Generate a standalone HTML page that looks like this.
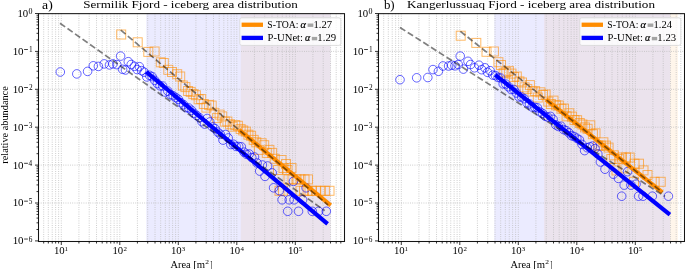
<!DOCTYPE html>
<html><head><meta charset="utf-8"><style>
html,body{margin:0;padding:0;background:#fff;width:685px;height:269px;overflow:hidden}
svg{display:block;font-family:"Liberation Serif",serif;will-change:transform}
</style></head><body>
<svg width="685" height="269" viewBox="0 0 685 269" font-family='"Liberation Serif", serif' fill="#000"><rect x="240.8" y="13.5" width="89.70" height="227.5" fill="#ff8c00" fill-opacity="0.08"/>
<rect x="146.3" y="13.5" width="184.20" height="227.5" fill="#0000ff" fill-opacity="0.08"/>
<path d="M43.69 13.5V241.0M48.32 13.5V241.0M52.24 13.5V241.0M55.63 13.5V241.0M58.62 13.5V241.0M61.30 13.5V241.0M78.91 13.5V241.0M89.21 13.5V241.0M96.52 13.5V241.0M102.19 13.5V241.0M106.82 13.5V241.0M110.74 13.5V241.0M114.13 13.5V241.0M117.12 13.5V241.0M119.80 13.5V241.0M137.41 13.5V241.0M147.71 13.5V241.0M155.02 13.5V241.0M160.69 13.5V241.0M165.32 13.5V241.0M169.24 13.5V241.0M172.63 13.5V241.0M175.62 13.5V241.0M178.30 13.5V241.0M195.91 13.5V241.0M206.21 13.5V241.0M213.52 13.5V241.0M219.19 13.5V241.0M223.82 13.5V241.0M227.74 13.5V241.0M231.13 13.5V241.0M234.12 13.5V241.0M236.80 13.5V241.0M254.41 13.5V241.0M264.71 13.5V241.0M272.02 13.5V241.0M277.69 13.5V241.0M282.32 13.5V241.0M286.24 13.5V241.0M289.63 13.5V241.0M292.62 13.5V241.0M295.30 13.5V241.0M312.91 13.5V241.0M323.21 13.5V241.0M330.52 13.5V241.0M336.19 13.5V241.0M340.82 13.5V241.0M38.5 51.40H344.5M38.5 89.30H344.5M38.5 127.20H344.5M38.5 165.10H344.5M38.5 203.00H344.5" stroke="#b8b8b8" stroke-width="0.8" stroke-dasharray="0.85 1.4" fill="none"/>
<g fill="none" stroke="#ff8c00" stroke-opacity="0.6" stroke-width="1"><rect x="116.7" y="30.0" width="9" height="9"/><rect x="133.2" y="37.8" width="9" height="9"/><rect x="143.8" y="47.4" width="9" height="9"/><rect x="150.1" y="47.0" width="9" height="9"/><rect x="156.3" y="57.8" width="9" height="9"/><rect x="159.3" y="58.5" width="9" height="9"/><rect x="163.8" y="65.3" width="9" height="9"/><rect x="167.5" y="67.5" width="9" height="9"/><rect x="172.7" y="69.7" width="9" height="9"/><rect x="175.7" y="72.0" width="9" height="9"/><rect x="178.3" y="81.0" width="9" height="9"/><rect x="180.9" y="82.6" width="9" height="9"/><rect x="183.6" y="86.5" width="9" height="9"/><rect x="186.2" y="87.4" width="9" height="9"/><rect x="188.8" y="89.6" width="9" height="9"/><rect x="191.4" y="90.7" width="9" height="9"/><rect x="194.1" y="94.8" width="9" height="9"/><rect x="196.7" y="94.6" width="9" height="9"/><rect x="199.3" y="99.5" width="9" height="9"/><rect x="201.9" y="103.1" width="9" height="9"/><rect x="204.6" y="100.4" width="9" height="9"/><rect x="207.2" y="101.1" width="9" height="9"/><rect x="209.8" y="108.3" width="9" height="9"/><rect x="212.4" y="113.6" width="9" height="9"/><rect x="215.1" y="110.1" width="9" height="9"/><rect x="217.7" y="111.9" width="9" height="9"/><rect x="220.3" y="117.1" width="9" height="9"/><rect x="222.9" y="117.0" width="9" height="9"/><rect x="225.6" y="119.8" width="9" height="9"/><rect x="228.2" y="122.2" width="9" height="9"/><rect x="230.8" y="120.6" width="9" height="9"/><rect x="233.4" y="121.3" width="9" height="9"/><rect x="236.1" y="124.6" width="9" height="9"/><rect x="238.7" y="126.0" width="9" height="9"/><rect x="241.3" y="127.1" width="9" height="9"/><rect x="243.9" y="130.2" width="9" height="9"/><rect x="246.6" y="131.3" width="9" height="9"/><rect x="249.2" y="135.4" width="9" height="9"/><rect x="251.8" y="137.8" width="9" height="9"/><rect x="254.4" y="145.4" width="9" height="9"/><rect x="257.1" y="138.7" width="9" height="9"/><rect x="259.7" y="140.7" width="9" height="9"/><rect x="262.3" y="148.4" width="9" height="9"/><rect x="264.9" y="145.4" width="9" height="9"/><rect x="267.6" y="148.4" width="9" height="9"/><rect x="270.2" y="154.3" width="9" height="9"/><rect x="275.0" y="186.3" width="9" height="9"/><rect x="278.5" y="186.3" width="9" height="9"/><rect x="296.0" y="186.3" width="9" height="9"/><rect x="299.5" y="186.3" width="9" height="9"/><rect x="303.1" y="186.3" width="9" height="9"/><rect x="307.5" y="186.3" width="9" height="9"/><rect x="311.7" y="186.3" width="9" height="9"/><rect x="316.0" y="186.3" width="9" height="9"/><rect x="320.4" y="186.3" width="9" height="9"/><rect x="325.0" y="186.3" width="9" height="9"/><rect x="284.0" y="174.9" width="9" height="9"/><rect x="288.0" y="174.9" width="9" height="9"/><rect x="292.0" y="174.9" width="9" height="9"/><rect x="296.0" y="174.9" width="9" height="9"/><rect x="300.0" y="174.9" width="9" height="9"/><rect x="303.5" y="174.9" width="9" height="9"/><rect x="273.5" y="165.5" width="9" height="9"/><rect x="279.0" y="163.5" width="9" height="9"/><rect x="283.0" y="165.5" width="9" height="9"/><rect x="287.0" y="163.5" width="9" height="9"/><rect x="277.0" y="155.5" width="9" height="9"/><rect x="281.5" y="159.5" width="9" height="9"/></g>
<g fill="none" stroke="#0000ff" stroke-opacity="0.6" stroke-width="1"><circle cx="60.3" cy="72.0" r="4.3"/><circle cx="76.8" cy="73.9" r="4.3"/><circle cx="87.6" cy="71.4" r="4.3"/><circle cx="93.3" cy="65.8" r="4.3"/><circle cx="98.4" cy="66.4" r="4.3"/><circle cx="104.2" cy="63.9" r="4.3"/><circle cx="109.5" cy="64.9" r="4.3"/><circle cx="112.9" cy="63.9" r="4.3"/><circle cx="116.8" cy="64.6" r="4.3"/><circle cx="120.6" cy="56.1" r="4.3"/><circle cx="122.6" cy="69.3" r="4.3"/><circle cx="125.5" cy="70.0" r="4.3"/><circle cx="128.3" cy="61.7" r="4.3"/><circle cx="131.2" cy="64.5" r="4.3"/><circle cx="134.4" cy="66.3" r="4.3"/><circle cx="137.1" cy="69.5" r="4.3"/><circle cx="139.4" cy="66.7" r="4.3"/><circle cx="141.6" cy="70.6" r="4.3"/><circle cx="144.2" cy="72.2" r="4.3"/><circle cx="146.8" cy="76.9" r="4.3"/><circle cx="149.5" cy="75.3" r="4.3"/><circle cx="152.1" cy="76.6" r="4.3"/><circle cx="154.7" cy="80.3" r="4.3"/><circle cx="157.3" cy="83.5" r="4.3"/><circle cx="160.0" cy="85.8" r="4.3"/><circle cx="162.6" cy="86.0" r="4.3"/><circle cx="165.2" cy="92.1" r="4.3"/><circle cx="167.8" cy="91.1" r="4.3"/><circle cx="170.5" cy="94.6" r="4.3"/><circle cx="173.1" cy="95.7" r="4.3"/><circle cx="175.7" cy="97.5" r="4.3"/><circle cx="178.3" cy="99.3" r="4.3"/><circle cx="181.0" cy="102.7" r="4.3"/><circle cx="183.6" cy="104.7" r="4.3"/><circle cx="186.2" cy="107.7" r="4.3"/><circle cx="188.8" cy="108.0" r="4.3"/><circle cx="191.5" cy="110.3" r="4.3"/><circle cx="194.1" cy="113.4" r="4.3"/><circle cx="196.7" cy="115.5" r="4.3"/><circle cx="199.3" cy="117.6" r="4.3"/><circle cx="202.0" cy="121.7" r="4.3"/><circle cx="204.6" cy="124.1" r="4.3"/><circle cx="207.2" cy="118.5" r="4.3"/><circle cx="209.8" cy="122.0" r="4.3"/><circle cx="212.5" cy="127.0" r="4.3"/><circle cx="215.1" cy="128.7" r="4.3"/><circle cx="217.7" cy="132.1" r="4.3"/><circle cx="220.3" cy="134.3" r="4.3"/><circle cx="223.0" cy="140.1" r="4.3"/><circle cx="225.6" cy="134.5" r="4.3"/><circle cx="228.2" cy="138.0" r="4.3"/><circle cx="230.8" cy="144.5" r="4.3"/><circle cx="233.5" cy="144.2" r="4.3"/><circle cx="236.1" cy="146.4" r="4.3"/><circle cx="238.7" cy="146.5" r="4.3"/><circle cx="241.3" cy="146.8" r="4.3"/><circle cx="244.0" cy="152.2" r="4.3"/><circle cx="246.6" cy="154.3" r="4.3"/><circle cx="249.2" cy="154.0" r="4.3"/><circle cx="251.8" cy="157.6" r="4.3"/><circle cx="254.5" cy="157.0" r="4.3"/><circle cx="257.1" cy="163.0" r="4.3"/><circle cx="259.7" cy="171.1" r="4.3"/><circle cx="262.4" cy="165.0" r="4.3"/><circle cx="265.0" cy="176.4" r="4.3"/><circle cx="267.6" cy="166.0" r="4.3"/><circle cx="272.2" cy="172.9" r="4.3"/><circle cx="273.6" cy="187.8" r="4.3"/><circle cx="279.3" cy="190.6" r="4.3"/><circle cx="282.1" cy="199.8" r="4.3"/><circle cx="289.2" cy="199.8" r="4.3"/><circle cx="294.1" cy="199.8" r="4.3"/><circle cx="293.4" cy="181.4" r="4.3"/><circle cx="302.6" cy="199.8" r="4.3"/><circle cx="306.1" cy="187.8" r="4.3"/><circle cx="287.7" cy="211.3" r="4.3"/><circle cx="298.5" cy="211.3" r="4.3"/><circle cx="312.3" cy="211.3" r="4.3"/><circle cx="318.6" cy="211.3" r="4.3"/><circle cx="326.3" cy="211.3" r="4.3"/></g>
<line x1="146.3" y1="71.8" x2="327.6" y2="223.8" stroke="#0000ff" stroke-width="4.2"/>
<line x1="239.1" y1="129.9" x2="330.7" y2="205.3" stroke="#ff8c00" stroke-width="4.2"/>
<line x1="60.0" y1="23.2" x2="324.7" y2="210.6" stroke="#000" stroke-opacity="0.5" stroke-width="1.7" stroke-dasharray="6.3 2.9"/>
<line x1="120.8" y1="30.1" x2="328.0" y2="205.0" stroke="#000" stroke-opacity="0.5" stroke-width="1.7" stroke-dasharray="6.3 2.9"/>
<rect x="239.8" y="17.8" width="101.00" height="27.60" rx="2" fill="#fff" fill-opacity="0.8" stroke="#d6d6d6" stroke-width="0.8"/>
<line x1="241.6" y1="24.75" x2="263" y2="24.75" stroke="#ff8c00" stroke-width="4.3"/>
<line x1="241.6" y1="37.9" x2="263" y2="37.9" stroke="#0000ff" stroke-width="4.3"/>
<text transform="translate(267.25,28.00) scale(1.0060,1)" font-size="9.7">S-TOA:</text>
<text transform="translate(300.59,27.80) scale(1.0678,1)" font-size="9.7" font-style="italic" stroke="#000" stroke-width="0.2">α</text>
<rect x="307.6" y="23.5" width="5.7" height="3.4" fill="#a4a4a4"/>
<text transform="translate(313.46,28.00) scale(1.0983,1)" font-size="9.7">1.27</text>
<text transform="translate(267.59,40.60) scale(1.0971,1)" font-size="9.7">P-UNet:</text>
<text transform="translate(305.00,40.60) scale(1.0275,1)" font-size="9.7" font-style="italic" stroke="#000" stroke-width="0.2">α</text>
<rect x="311.8" y="36.9" width="5.4" height="3.4" fill="#a4a4a4"/>
<text transform="translate(317.36,40.60) scale(1.1065,1)" font-size="9.7">1.29</text>
<rect x="38.5" y="13.65" width="306.0" height="227.85" fill="none" stroke="#151515" stroke-width="1.05"/>
<path d="M43.69 241.5v2.0M48.32 241.5v2.0M52.24 241.5v2.0M55.63 241.5v2.0M58.62 241.5v2.0M61.30 241.5v3.5M78.91 241.5v2.0M89.21 241.5v2.0M96.52 241.5v2.0M102.19 241.5v2.0M106.82 241.5v2.0M110.74 241.5v2.0M114.13 241.5v2.0M117.12 241.5v2.0M119.80 241.5v3.5M137.41 241.5v2.0M147.71 241.5v2.0M155.02 241.5v2.0M160.69 241.5v2.0M165.32 241.5v2.0M169.24 241.5v2.0M172.63 241.5v2.0M175.62 241.5v2.0M178.30 241.5v3.5M195.91 241.5v2.0M206.21 241.5v2.0M213.52 241.5v2.0M219.19 241.5v2.0M223.82 241.5v2.0M227.74 241.5v2.0M231.13 241.5v2.0M234.12 241.5v2.0M236.80 241.5v3.5M254.41 241.5v2.0M264.71 241.5v2.0M272.02 241.5v2.0M277.69 241.5v2.0M282.32 241.5v2.0M286.24 241.5v2.0M289.63 241.5v2.0M292.62 241.5v2.0M295.30 241.5v3.5M312.91 241.5v2.0M323.21 241.5v2.0M330.52 241.5v2.0M336.19 241.5v2.0M340.82 241.5v2.0M38.5 13.50h-3.5M38.5 39.99h-2.0M38.5 33.32h-2.0M38.5 28.58h-2.0M38.5 24.91h-2.0M38.5 21.91h-2.0M38.5 19.37h-2.0M38.5 17.17h-2.0M38.5 15.23h-2.0M38.5 51.40h-3.5M38.5 77.89h-2.0M38.5 71.22h-2.0M38.5 66.48h-2.0M38.5 62.81h-2.0M38.5 59.81h-2.0M38.5 57.27h-2.0M38.5 55.07h-2.0M38.5 53.13h-2.0M38.5 89.30h-3.5M38.5 115.79h-2.0M38.5 109.12h-2.0M38.5 104.38h-2.0M38.5 100.71h-2.0M38.5 97.71h-2.0M38.5 95.17h-2.0M38.5 92.97h-2.0M38.5 91.03h-2.0M38.5 127.20h-3.5M38.5 153.69h-2.0M38.5 147.02h-2.0M38.5 142.28h-2.0M38.5 138.61h-2.0M38.5 135.61h-2.0M38.5 133.07h-2.0M38.5 130.87h-2.0M38.5 128.93h-2.0M38.5 165.10h-3.5M38.5 191.59h-2.0M38.5 184.92h-2.0M38.5 180.18h-2.0M38.5 176.51h-2.0M38.5 173.51h-2.0M38.5 170.97h-2.0M38.5 168.77h-2.0M38.5 166.83h-2.0M38.5 203.00h-3.5M38.5 229.49h-2.0M38.5 222.82h-2.0M38.5 218.08h-2.0M38.5 214.41h-2.0M38.5 211.41h-2.0M38.5 208.87h-2.0M38.5 206.67h-2.0M38.5 204.73h-2.0M38.5 240.90h-3.5" stroke="#000" stroke-width="0.8" fill="none"/>
<text transform="translate(53.95,253.70) scale(1.0755,1)" font-size="10">10</text>
<text x="64.59" y="250.70" font-size="6.9">1</text>
<text transform="translate(112.45,253.70) scale(1.0755,1)" font-size="10">10</text>
<text x="123.40" y="250.70" font-size="6.9">2</text>
<text transform="translate(170.95,253.70) scale(1.0755,1)" font-size="10">10</text>
<text x="181.87" y="250.70" font-size="6.9">3</text>
<text transform="translate(229.45,253.70) scale(1.0755,1)" font-size="10">10</text>
<text x="240.57" y="250.70" font-size="6.9">4</text>
<text transform="translate(287.95,253.70) scale(1.0755,1)" font-size="10">10</text>
<text x="298.80" y="250.70" font-size="6.9">5</text>
<text transform="translate(17.45,16.95) scale(1.0755,1)" font-size="10">10</text>
<text transform="translate(28.49,14.00) scale(1.0989,1)" font-size="7.3">0</text>
<text transform="translate(12.63,54.85) scale(1.0984,1)" font-size="10">10</text>
<rect x="24.10" y="49.15" width="3.8" height="0.75"/>
<text x="28.94" y="52.30" font-size="7.3">1</text>
<text transform="translate(12.63,92.75) scale(1.0984,1)" font-size="10">10</text>
<rect x="24.10" y="87.05" width="3.8" height="0.75"/>
<text x="28.90" y="90.20" font-size="7.3">2</text>
<text transform="translate(12.63,130.65) scale(1.0984,1)" font-size="10">10</text>
<rect x="24.10" y="124.95" width="3.8" height="0.75"/>
<text x="28.79" y="128.10" font-size="7.3">3</text>
<text transform="translate(12.63,168.55) scale(1.0984,1)" font-size="10">10</text>
<rect x="24.10" y="162.85" width="3.8" height="0.75"/>
<text x="28.61" y="166.00" font-size="7.3">4</text>
<text transform="translate(12.63,206.45) scale(1.0984,1)" font-size="10">10</text>
<rect x="24.10" y="200.75" width="3.8" height="0.75"/>
<text x="28.79" y="203.90" font-size="7.3">5</text>
<text transform="translate(12.63,244.35) scale(1.0984,1)" font-size="10">10</text>
<rect x="24.10" y="238.65" width="3.8" height="0.75"/>
<text x="28.72" y="241.80" font-size="7.3">6</text>
<text transform="translate(83.22,7.80) scale(1.2128,1)" font-size="10.8">Sermilik Fjord - iceberg area distribution</text>
<text transform="translate(42.12,8.60) scale(1.0583,1)" font-size="13">a)</text>
<text transform="translate(170.50,267.50) scale(1.0368,1)" font-size="10">Area</text>
<text transform="translate(193.21,267.50) scale(1.0676,1)" font-size="10">[m</text>
<text transform="translate(205.27,264.40) scale(1.1693,1)" font-size="6.4">2</text>
<text transform="translate(210.27,267.50) scale(0.6288,1)" font-size="10">]</text>
<rect x="544.1" y="13.5" width="133.90" height="227.5" fill="#ff8c00" fill-opacity="0.08"/>
<rect x="494.3" y="13.5" width="175.90" height="227.5" fill="#0000ff" fill-opacity="0.08"/>
<path d="M383.69 13.5V241.0M388.32 13.5V241.0M392.24 13.5V241.0M395.63 13.5V241.0M398.62 13.5V241.0M401.30 13.5V241.0M418.91 13.5V241.0M429.21 13.5V241.0M436.52 13.5V241.0M442.19 13.5V241.0M446.82 13.5V241.0M450.74 13.5V241.0M454.13 13.5V241.0M457.12 13.5V241.0M459.80 13.5V241.0M477.41 13.5V241.0M487.71 13.5V241.0M495.02 13.5V241.0M500.69 13.5V241.0M505.32 13.5V241.0M509.24 13.5V241.0M512.63 13.5V241.0M515.62 13.5V241.0M518.30 13.5V241.0M535.91 13.5V241.0M546.21 13.5V241.0M553.52 13.5V241.0M559.19 13.5V241.0M563.82 13.5V241.0M567.74 13.5V241.0M571.13 13.5V241.0M574.12 13.5V241.0M576.80 13.5V241.0M594.41 13.5V241.0M604.71 13.5V241.0M612.02 13.5V241.0M617.69 13.5V241.0M622.32 13.5V241.0M626.24 13.5V241.0M629.63 13.5V241.0M632.62 13.5V241.0M635.30 13.5V241.0M652.91 13.5V241.0M663.21 13.5V241.0M670.52 13.5V241.0M676.19 13.5V241.0M680.82 13.5V241.0M378.5 51.40H684.5M378.5 89.30H684.5M378.5 127.20H684.5M378.5 165.10H684.5M378.5 203.00H684.5" stroke="#b8b8b8" stroke-width="0.8" stroke-dasharray="0.85 1.4" fill="none"/>
<g fill="none" stroke="#ff8c00" stroke-opacity="0.6" stroke-width="1"><rect x="456.2" y="31.2" width="9" height="9"/><rect x="471.8" y="38.4" width="9" height="9"/><rect x="482.0" y="47.3" width="9" height="9"/><rect x="489.4" y="47.0" width="9" height="9"/><rect x="493.9" y="57.7" width="9" height="9"/><rect x="496.5" y="60.5" width="9" height="9"/><rect x="499.1" y="68.7" width="9" height="9"/><rect x="501.8" y="67.6" width="9" height="9"/><rect x="504.4" y="66.4" width="9" height="9"/><rect x="507.0" y="69.1" width="9" height="9"/><rect x="509.6" y="72.6" width="9" height="9"/><rect x="512.3" y="72.0" width="9" height="9"/><rect x="514.9" y="76.9" width="9" height="9"/><rect x="517.5" y="78.0" width="9" height="9"/><rect x="520.1" y="82.8" width="9" height="9"/><rect x="522.8" y="84.4" width="9" height="9"/><rect x="525.4" y="80.6" width="9" height="9"/><rect x="528.0" y="87.1" width="9" height="9"/><rect x="530.6" y="86.6" width="9" height="9"/><rect x="533.3" y="93.0" width="9" height="9"/><rect x="535.9" y="87.8" width="9" height="9"/><rect x="538.5" y="90.5" width="9" height="9"/><rect x="541.1" y="90.0" width="9" height="9"/><rect x="543.8" y="97.1" width="9" height="9"/><rect x="546.4" y="99.5" width="9" height="9"/><rect x="549.0" y="96.1" width="9" height="9"/><rect x="551.6" y="100.8" width="9" height="9"/><rect x="554.3" y="101.0" width="9" height="9"/><rect x="556.9" y="104.2" width="9" height="9"/><rect x="559.5" y="104.1" width="9" height="9"/><rect x="562.1" y="111.8" width="9" height="9"/><rect x="564.8" y="108.8" width="9" height="9"/><rect x="567.4" y="112.1" width="9" height="9"/><rect x="570.0" y="115.6" width="9" height="9"/><rect x="572.6" y="115.7" width="9" height="9"/><rect x="575.3" y="118.5" width="9" height="9"/><rect x="577.9" y="120.0" width="9" height="9"/><rect x="580.5" y="122.9" width="9" height="9"/><rect x="583.1" y="124.3" width="9" height="9"/><rect x="585.8" y="120.8" width="9" height="9"/><rect x="588.4" y="129.7" width="9" height="9"/><rect x="591.0" y="128.8" width="9" height="9"/><rect x="593.6" y="141.1" width="9" height="9"/><rect x="596.3" y="141.1" width="9" height="9"/><rect x="598.9" y="137.8" width="9" height="9"/><rect x="601.5" y="141.1" width="9" height="9"/><rect x="604.1" y="143.1" width="9" height="9"/><rect x="606.8" y="154.5" width="9" height="9"/><rect x="609.4" y="150.8" width="9" height="9"/><rect x="612.0" y="165.9" width="9" height="9"/><rect x="614.6" y="154.5" width="9" height="9"/><rect x="617.5" y="153.0" width="9" height="9"/><rect x="621.5" y="153.0" width="9" height="9"/><rect x="625.2" y="153.0" width="9" height="9"/><rect x="630.0" y="159.2" width="9" height="9"/><rect x="634.5" y="159.2" width="9" height="9"/><rect x="618.9" y="163.9" width="9" height="9"/><rect x="629.5" y="177.3" width="9" height="9"/><rect x="650.1" y="177.3" width="9" height="9"/><rect x="656.2" y="177.3" width="9" height="9"/><rect x="639.0" y="165.9" width="9" height="9"/><rect x="643.0" y="170.5" width="9" height="9"/></g>
<g fill="none" stroke="#0000ff" stroke-opacity="0.6" stroke-width="1"><circle cx="400.0" cy="79.7" r="4.3"/><circle cx="416.7" cy="77.8" r="4.3"/><circle cx="427.8" cy="77.5" r="4.3"/><circle cx="433.0" cy="69.6" r="4.3"/><circle cx="438.4" cy="71.3" r="4.3"/><circle cx="443.0" cy="66.0" r="4.3"/><circle cx="448.6" cy="66.0" r="4.3"/><circle cx="451.7" cy="65.2" r="4.3"/><circle cx="455.0" cy="65.8" r="4.3"/><circle cx="458.2" cy="64.5" r="4.3"/><circle cx="460.2" cy="56.1" r="4.3"/><circle cx="463.4" cy="69.1" r="4.3"/><circle cx="468.0" cy="61.3" r="4.3"/><circle cx="470.6" cy="64.5" r="4.3"/><circle cx="474.5" cy="67.8" r="4.3"/><circle cx="479.0" cy="65.2" r="4.3"/><circle cx="481.7" cy="69.7" r="4.3"/><circle cx="484.9" cy="67.8" r="4.3"/><circle cx="487.5" cy="72.3" r="4.3"/><circle cx="490.1" cy="70.7" r="4.3"/><circle cx="492.8" cy="75.1" r="4.3"/><circle cx="495.4" cy="75.6" r="4.3"/><circle cx="498.0" cy="77.4" r="4.3"/><circle cx="500.6" cy="78.0" r="4.3"/><circle cx="503.2" cy="83.9" r="4.3"/><circle cx="505.9" cy="84.1" r="4.3"/><circle cx="508.5" cy="86.8" r="4.3"/><circle cx="511.1" cy="89.5" r="4.3"/><circle cx="513.8" cy="89.5" r="4.3"/><circle cx="516.4" cy="93.0" r="4.3"/><circle cx="519.0" cy="96.9" r="4.3"/><circle cx="521.6" cy="97.0" r="4.3"/><circle cx="524.2" cy="98.7" r="4.3"/><circle cx="526.9" cy="102.8" r="4.3"/><circle cx="529.5" cy="103.9" r="4.3"/><circle cx="532.1" cy="107.0" r="4.3"/><circle cx="534.8" cy="107.3" r="4.3"/><circle cx="537.4" cy="107.8" r="4.3"/><circle cx="540.0" cy="111.9" r="4.3"/><circle cx="542.6" cy="113.4" r="4.3"/><circle cx="545.2" cy="116.2" r="4.3"/><circle cx="547.9" cy="117.2" r="4.3"/><circle cx="550.5" cy="116.4" r="4.3"/><circle cx="553.1" cy="119.3" r="4.3"/><circle cx="555.8" cy="124.9" r="4.3"/><circle cx="558.4" cy="126.5" r="4.3"/><circle cx="561.0" cy="126.2" r="4.3"/><circle cx="563.6" cy="129.6" r="4.3"/><circle cx="566.2" cy="130.6" r="4.3"/><circle cx="568.9" cy="132.8" r="4.3"/><circle cx="571.5" cy="135.7" r="4.3"/><circle cx="574.1" cy="136.5" r="4.3"/><circle cx="576.8" cy="138.2" r="4.3"/><circle cx="579.4" cy="139.9" r="4.3"/><circle cx="582.0" cy="144.4" r="4.3"/><circle cx="584.6" cy="150.6" r="4.3"/><circle cx="587.2" cy="147.7" r="4.3"/><circle cx="589.9" cy="146.9" r="4.3"/><circle cx="592.5" cy="146.1" r="4.3"/><circle cx="595.1" cy="148.6" r="4.3"/><circle cx="597.8" cy="154.0" r="4.3"/><circle cx="600.4" cy="162.0" r="4.3"/><circle cx="605.0" cy="169.2" r="4.3"/><circle cx="613.4" cy="174.2" r="4.3"/><circle cx="618.4" cy="178.4" r="4.3"/><circle cx="624.2" cy="185.1" r="4.3"/><circle cx="627.6" cy="171.7" r="4.3"/><circle cx="630.9" cy="185.1" r="4.3"/><circle cx="636.0" cy="184.2" r="4.3"/><circle cx="621.7" cy="196.2" r="4.3"/><circle cx="638.6" cy="196.2" r="4.3"/><circle cx="643.0" cy="196.2" r="4.3"/><circle cx="652.3" cy="196.2" r="4.3"/><circle cx="668.4" cy="196.2" r="4.3"/></g>
<line x1="495.2" y1="74.8" x2="669.9" y2="214.6" stroke="#0000ff" stroke-width="4.2"/>
<line x1="546.0" y1="99.5" x2="662.4" y2="192.3" stroke="#ff8c00" stroke-width="4.2"/>
<line x1="400.0" y1="27.5" x2="665.0" y2="196.4" stroke="#000" stroke-opacity="0.5" stroke-width="1.7" stroke-dasharray="6.3 2.9"/>
<line x1="460.4" y1="31.3" x2="662.4" y2="192.3" stroke="#000" stroke-opacity="0.5" stroke-width="1.7" stroke-dasharray="6.3 2.9"/>
<rect x="579.8" y="17.8" width="101.00" height="27.60" rx="2" fill="#fff" fill-opacity="0.8" stroke="#d6d6d6" stroke-width="0.8"/>
<line x1="581.6" y1="24.75" x2="603" y2="24.75" stroke="#ff8c00" stroke-width="4.3"/>
<line x1="581.6" y1="37.9" x2="603" y2="37.9" stroke="#0000ff" stroke-width="4.3"/>
<text transform="translate(607.25,28.00) scale(1.0060,1)" font-size="9.7">S-TOA:</text>
<text transform="translate(640.59,27.80) scale(1.0678,1)" font-size="9.7" font-style="italic" stroke="#000" stroke-width="0.2">α</text>
<rect x="647.6" y="23.5" width="5.7" height="3.4" fill="#a4a4a4"/>
<text transform="translate(653.47,28.00) scale(1.0895,1)" font-size="9.7">1.24</text>
<text transform="translate(607.59,40.60) scale(1.0971,1)" font-size="9.7">P-UNet:</text>
<text transform="translate(645.00,40.60) scale(1.0275,1)" font-size="9.7" font-style="italic" stroke="#000" stroke-width="0.2">α</text>
<rect x="651.8" y="36.9" width="5.4" height="3.4" fill="#a4a4a4"/>
<text transform="translate(657.36,40.60) scale(1.1052,1)" font-size="9.7">1.23</text>
<rect x="378.5" y="13.65" width="306.0" height="227.85" fill="none" stroke="#151515" stroke-width="1.05"/>
<path d="M383.69 241.5v2.0M388.32 241.5v2.0M392.24 241.5v2.0M395.63 241.5v2.0M398.62 241.5v2.0M401.30 241.5v3.5M418.91 241.5v2.0M429.21 241.5v2.0M436.52 241.5v2.0M442.19 241.5v2.0M446.82 241.5v2.0M450.74 241.5v2.0M454.13 241.5v2.0M457.12 241.5v2.0M459.80 241.5v3.5M477.41 241.5v2.0M487.71 241.5v2.0M495.02 241.5v2.0M500.69 241.5v2.0M505.32 241.5v2.0M509.24 241.5v2.0M512.63 241.5v2.0M515.62 241.5v2.0M518.30 241.5v3.5M535.91 241.5v2.0M546.21 241.5v2.0M553.52 241.5v2.0M559.19 241.5v2.0M563.82 241.5v2.0M567.74 241.5v2.0M571.13 241.5v2.0M574.12 241.5v2.0M576.80 241.5v3.5M594.41 241.5v2.0M604.71 241.5v2.0M612.02 241.5v2.0M617.69 241.5v2.0M622.32 241.5v2.0M626.24 241.5v2.0M629.63 241.5v2.0M632.62 241.5v2.0M635.30 241.5v3.5M652.91 241.5v2.0M663.21 241.5v2.0M670.52 241.5v2.0M676.19 241.5v2.0M680.82 241.5v2.0M378.5 13.50h-3.5M378.5 39.99h-2.0M378.5 33.32h-2.0M378.5 28.58h-2.0M378.5 24.91h-2.0M378.5 21.91h-2.0M378.5 19.37h-2.0M378.5 17.17h-2.0M378.5 15.23h-2.0M378.5 51.40h-3.5M378.5 77.89h-2.0M378.5 71.22h-2.0M378.5 66.48h-2.0M378.5 62.81h-2.0M378.5 59.81h-2.0M378.5 57.27h-2.0M378.5 55.07h-2.0M378.5 53.13h-2.0M378.5 89.30h-3.5M378.5 115.79h-2.0M378.5 109.12h-2.0M378.5 104.38h-2.0M378.5 100.71h-2.0M378.5 97.71h-2.0M378.5 95.17h-2.0M378.5 92.97h-2.0M378.5 91.03h-2.0M378.5 127.20h-3.5M378.5 153.69h-2.0M378.5 147.02h-2.0M378.5 142.28h-2.0M378.5 138.61h-2.0M378.5 135.61h-2.0M378.5 133.07h-2.0M378.5 130.87h-2.0M378.5 128.93h-2.0M378.5 165.10h-3.5M378.5 191.59h-2.0M378.5 184.92h-2.0M378.5 180.18h-2.0M378.5 176.51h-2.0M378.5 173.51h-2.0M378.5 170.97h-2.0M378.5 168.77h-2.0M378.5 166.83h-2.0M378.5 203.00h-3.5M378.5 229.49h-2.0M378.5 222.82h-2.0M378.5 218.08h-2.0M378.5 214.41h-2.0M378.5 211.41h-2.0M378.5 208.87h-2.0M378.5 206.67h-2.0M378.5 204.73h-2.0M378.5 240.90h-3.5" stroke="#000" stroke-width="0.8" fill="none"/>
<text transform="translate(393.95,253.70) scale(1.0755,1)" font-size="10">10</text>
<text x="404.59" y="250.70" font-size="6.9">1</text>
<text transform="translate(452.45,253.70) scale(1.0755,1)" font-size="10">10</text>
<text x="463.40" y="250.70" font-size="6.9">2</text>
<text transform="translate(510.95,253.70) scale(1.0755,1)" font-size="10">10</text>
<text x="521.87" y="250.70" font-size="6.9">3</text>
<text transform="translate(569.45,253.70) scale(1.0755,1)" font-size="10">10</text>
<text x="580.57" y="250.70" font-size="6.9">4</text>
<text transform="translate(627.95,253.70) scale(1.0755,1)" font-size="10">10</text>
<text x="638.80" y="250.70" font-size="6.9">5</text>
<text transform="translate(357.45,16.95) scale(1.0755,1)" font-size="10">10</text>
<text transform="translate(368.49,14.00) scale(1.0989,1)" font-size="7.3">0</text>
<text transform="translate(352.63,54.85) scale(1.0984,1)" font-size="10">10</text>
<rect x="364.10" y="49.15" width="3.8" height="0.75"/>
<text x="368.94" y="52.30" font-size="7.3">1</text>
<text transform="translate(352.63,92.75) scale(1.0984,1)" font-size="10">10</text>
<rect x="364.10" y="87.05" width="3.8" height="0.75"/>
<text x="368.90" y="90.20" font-size="7.3">2</text>
<text transform="translate(352.63,130.65) scale(1.0984,1)" font-size="10">10</text>
<rect x="364.10" y="124.95" width="3.8" height="0.75"/>
<text x="368.79" y="128.10" font-size="7.3">3</text>
<text transform="translate(352.63,168.55) scale(1.0984,1)" font-size="10">10</text>
<rect x="364.10" y="162.85" width="3.8" height="0.75"/>
<text x="368.61" y="166.00" font-size="7.3">4</text>
<text transform="translate(352.63,206.45) scale(1.0984,1)" font-size="10">10</text>
<rect x="364.10" y="200.75" width="3.8" height="0.75"/>
<text x="368.79" y="203.90" font-size="7.3">5</text>
<text transform="translate(352.63,244.35) scale(1.0984,1)" font-size="10">10</text>
<rect x="364.10" y="238.65" width="3.8" height="0.75"/>
<text x="368.72" y="241.80" font-size="7.3">6</text>
<text transform="translate(407.02,7.80) scale(1.2161,1)" font-size="10.8">Kangerlussuaq Fjord - iceberg area distribution</text>
<text transform="translate(383.90,8.60) scale(0.9944,1)" font-size="13">b)</text>
<text transform="translate(510.50,267.50) scale(1.0368,1)" font-size="10">Area</text>
<text transform="translate(533.21,267.50) scale(1.0676,1)" font-size="10">[m</text>
<text transform="translate(545.27,264.40) scale(1.1693,1)" font-size="6.4">2</text>
<text transform="translate(550.27,267.50) scale(0.6288,1)" font-size="10">]</text>
<text transform="translate(7.5,163.71) rotate(-90) scale(0.9205,1)" font-size="11.2">relative abundance</text></svg>
</body></html>
